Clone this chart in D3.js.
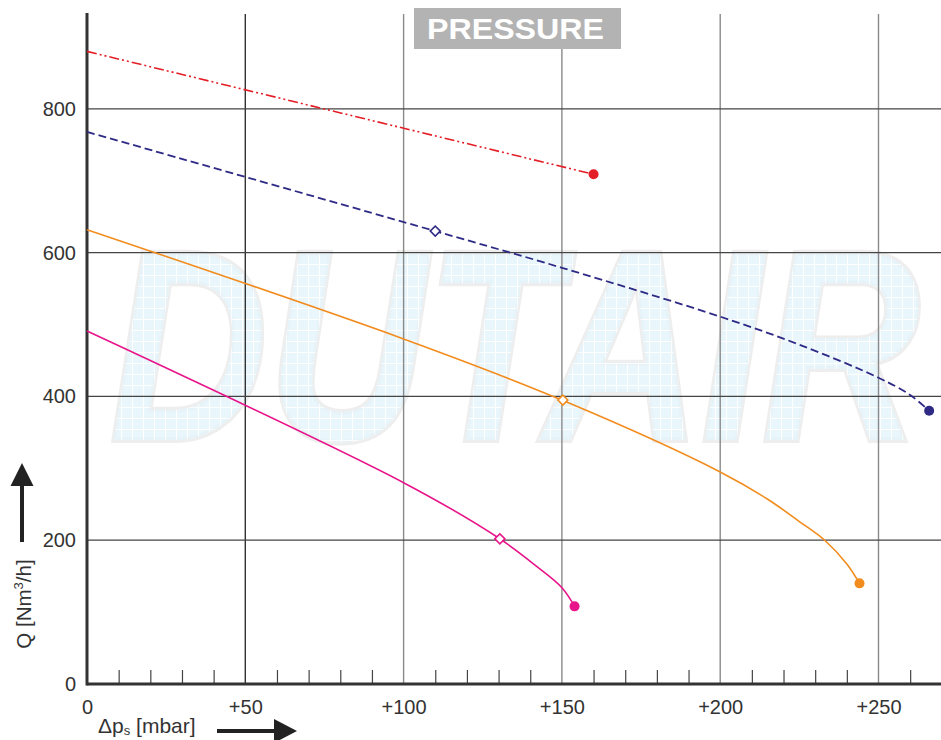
<!DOCTYPE html>
<html>
<head>
<meta charset="utf-8">
<script src="https://cdn.jsdelivr.net/npm/d3@7"></script>
<style>
  body { margin: 0; background: #fff; }
  svg { display: block; font-family: "Liberation Sans", Arial, sans-serif; }
</style>
</head>
<body>
<svg id="chart" width="941" height="740"></svg>
<script>
// data
const xMajorTicks = [0, 50, 100, 150, 200, 250];
const xMinorTicks = [10, 20, 30, 40, 60, 70, 80, 90, 110, 120, 130, 140, 160, 170, 180, 190, 210, 220, 230, 240, 260];
const yTicks = [0, 200, 400, 600, 800];

const redDp = [0, 160];
const redQ = [880, 709];

const blueDp = [0, 110, 150, 200, 225, 250, 260, 266];
const blueQ = [768, 630, 579, 511, 472, 426, 402, 380];

const orangeDp = [0, 100, 150, 200, 215, 225, 233, 240, 244];
const orangeQ = [632, 480, 395, 295, 257, 226, 200, 167, 140];

const pinkDp = [0, 100, 130.4, 141, 150, 154];
const pinkQ = [491, 280, 202, 167, 134, 108];

// marker positions (diamond = open marker, dot = end point)
const diamonds = [
  {dp: 110, q: 630, color: "#2e2a85"},
  {dp: 150.3, q: 395, color: "#f28c1e"},
  {dp: 130.4, q: 202, color: "#e8158a"}
];

function drawChart(){
  const svg = d3.select("#chart");
  const margin = {top: 14, left: 87, bottom: 56};
  const height = 740 - margin.top - margin.bottom;

  const x = d3.scaleLinear().domain([0, 270]).range([margin.left, margin.left + 270 * 3.166]);
  const y = d3.scaleLinear().domain([0, 932]).range([margin.top + height, margin.top]);

  // watermark pattern
  const defs = svg.append("defs");
  const pat = defs.append("pattern")
    .attr("id", "wm")
    .attr("patternUnits", "userSpaceOnUse")
    .attr("width", 11).attr("height", 11);
  pat.append("rect").attr("width", 11).attr("height", 11).attr("fill", "#e4f5fc");
  pat.append("path").attr("d", "M0 0.5H11M0.5 0V11").attr("stroke", "#fff").attr("stroke-width", 1);

  svg.append("text")
    .text("DUTAIR")
    .attr("x", 110)
    .attr("y", 440)
    .attr("textLength", 810)
    .attr("lengthAdjust", "spacingAndGlyphs")
    .style("font-size", "272px")
    .style("font-weight", "bold")
    .style("font-style", "italic")
    .style("fill", "url(#wm)")
    .style("fill-opacity", 0.8)
    .style("stroke", "#eeeeee")
    .style("stroke-width", 6)
    .style("paint-order", "stroke");

  // grid
  svg.append("g")
    .selectAll("line")
    .data(xMajorTicks.filter(d => d > 0))
    .join("line")
      .attr("x1", d => x(d)).attr("x2", d => x(d))
      .attr("y1", margin.top).attr("y2", y(0))
      .attr("stroke", d => d === 50 ? "#333" : "#8a8a8a")
      .attr("stroke-width", 1.4);

  svg.append("g")
    .selectAll("line")
    .data(yTicks.filter(d => d > 0))
    .join("line")
      .attr("x1", x(0)).attr("x2", 941)
      .attr("y1", d => y(d)).attr("y2", d => y(d))
      .attr("stroke", "#444")
      .attr("stroke-width", 1.2);

  // minor ticks along the bottom
  svg.append("g")
    .attr("transform", `translate(0,${y(0)})`)
    .call(d3.axisTop(x).tickValues(xMinorTicks).tickSize(14).tickFormat(""))
    .call(g => g.select(".domain").remove())
    .call(g => g.selectAll(".tick line").attr("stroke", "#444").attr("stroke-width", 1.2));

  // axes
  const xAxis = svg.append("g")
    .attr("transform", `translate(0,${y(0)})`)
    .call(d3.axisBottom(x).tickValues(xMajorTicks).tickSize(0).tickPadding(16)
      .tickFormat(d => d === 0 ? "0" : "+" + d));
  xAxis.select(".domain").remove();
  xAxis.selectAll("text").style("font-size", "20px").style("fill", "#333")
    .style("font-family", "Liberation Sans, Arial, sans-serif");

  const yAxis = svg.append("g")
    .attr("transform", `translate(${x(0)},0)`)
    .call(d3.axisLeft(y).tickValues(yTicks).tickSize(0).tickPadding(11));
  yAxis.select(".domain").remove();
  yAxis.selectAll("text").style("font-size", "20px").style("fill", "#333")
    .style("font-family", "Liberation Sans, Arial, sans-serif");

  svg.append("line")
    .attr("x1", x(0)).attr("x2", 941)
    .attr("y1", y(0)).attr("y2", y(0))
    .attr("stroke", "#333").attr("stroke-width", 3);
  svg.append("line")
    .attr("x1", x(0)).attr("x2", x(0))
    .attr("y1", margin.top - 1).attr("y2", y(0) + 1.5)
    .attr("stroke", "#333").attr("stroke-width", 3);

  // curves
  const line = d3.line()
    .x(d => x(d[0]))
    .y(d => y(d[1]))
    .curve(d3.curveCatmullRom.alpha(0.5));

  const series = [
    {dp: redDp, q: redQ, color: "#e41e26", dash: "10,3,2,3,2,3", width: 1.6},
    {dp: blueDp, q: blueQ, color: "#2e2a85", dash: "8,4", width: 1.8},
    {dp: orangeDp, q: orangeQ, color: "#f28c1e", dash: null, width: 1.6},
    {dp: pinkDp, q: pinkQ, color: "#e8158a", dash: null, width: 1.6}
  ];

  series.forEach(s => {
    const pts = s.dp.map((d, i) => [d, s.q[i]]);
    svg.append("path")
      .datum(pts)
      .attr("d", line)
      .attr("fill", "none")
      .attr("stroke", s.color)
      .attr("stroke-width", s.width)
      .attr("stroke-dasharray", s.dash);
    const last = pts[pts.length - 1];
    svg.append("circle")
      .attr("cx", x(last[0]))
      .attr("cy", y(last[1]))
      .attr("r", 5)
      .attr("fill", s.color);
  });

  svg.selectAll("path.diamond")
    .data(diamonds)
    .join("path")
      .attr("class", "diamond")
      .attr("d", d3.symbol(d3.symbolSquare, 50))
      .attr("transform", d => `translate(${x(d.dp)},${y(d.q)}) rotate(45)`)
      .attr("fill", "#fff")
      .attr("stroke", d => d.color)
      .attr("stroke-width", 1.6);

  // title box
  svg.append("rect")
    .attr("x", 414).attr("y", 8)
    .attr("width", 207).attr("height", 41)
    .attr("fill", "#b3b3b3");
  svg.append("text")
    .text("PRESSURE")
    .attr("x", 427).attr("y", 39)
    .attr("textLength", 177)
    .attr("lengthAdjust", "spacingAndGlyphs")
    .style("font-size", "29px")
    .style("font-weight", "bold")
    .style("fill", "#fff");

  // axis titles with arrows
  const qLab = svg.append("text")
    .attr("transform", "translate(31,604) rotate(-90)")
    .style("text-anchor", "middle")
    .style("font-size", "20.5px")
    .style("fill", "#333");
  qLab.append("tspan").text("Q [Nm");
  qLab.append("tspan").text("3").attr("dy", -8).style("font-size", "13px");
  qLab.append("tspan").text("/h]").attr("dy", 8);

  svg.append("line")
    .attr("x1", 22).attr("x2", 22).attr("y1", 542).attr("y2", 482)
    .attr("stroke", "#222").attr("stroke-width", 4);
  svg.append("path")
    .attr("d", "M22,463L33.5,486L10.5,486Z")
    .attr("fill", "#222");

  const xLab = svg.append("text")
    .attr("x", 98).attr("y", 733)
    .style("font-size", "21px")
    .style("fill", "#333");
  xLab.append("tspan").text("\u0394p");
  xLab.append("tspan").text("s").attr("dy", 2).style("font-size", "13px");
  xLab.append("tspan").text(" [mbar]").attr("dy", -2);

  svg.append("line")
    .attr("x1", 217).attr("x2", 276).attr("y1", 731).attr("y2", 731)
    .attr("stroke", "#222").attr("stroke-width", 4);
  svg.append("path")
    .attr("d", "M297,731L274,719L274,743Z")
    .attr("fill", "#222");
}

drawChart();
</script>
</body>
</html>
